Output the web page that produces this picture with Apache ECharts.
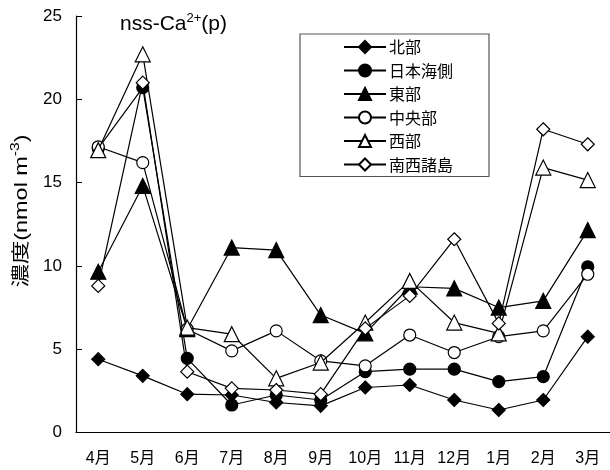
<!DOCTYPE html>
<html><head><meta charset="utf-8">
<script src="https://cdn.jsdelivr.net/npm/echarts@6/dist/echarts.min.js"></script>
<style>html,body{margin:0;padding:0;background:#fff}#c{width:610px;height:470px}</style>
</head><body><div id="c"></div>
<script>
var months = ['4月','5月','6月','7月','8月','9月','10月','11月','12月','1月','2月','3月'];
var yTicks = [0,5,10,15,20,25];
var seriesNames = ['北部','日本海側','東部','中央部','西部','南西諸島'];
var hokubu   = [4.4, 3.4, 2.3, 2.25, 1.8, 1.6, 2.7, 2.85, 1.95, 1.35, 1.95, 5.75];
var nihonkai = [17.05, 20.7, 4.45, 1.65, 2.25, 1.95, 3.65, 3.8, 3.8, 3.05, 3.35, 9.95];
var tobu     = [9.65, 14.8, 6.2, 11.1, 10.95, 7.05, 5.95, 8.75, 8.65, 7.5, 7.9, 12.15];
var chuo     = [17.15, 16.2, 6.2, 4.9, 6.1, 4.3, 4.0, 5.85, 4.8, 5.75, 6.1, 9.5];
var seibu    = [16.95, 22.7, 6.3, 5.9, 3.25, 4.2, 6.6, 9.1, 6.6, 5.95, 15.9, 15.15];
var nansei   = [8.8, 21.0, 3.65, 2.65, 2.55, 2.3, 6.25, 8.2, 11.6, 6.55, 18.2, 17.3];

var values = [hokubu, nihonkai, tobu, chuo, seibu, nansei];
var symbols = ['diamond','circle','triangle','circle','triangle','diamond'];
var sizes = [13, 12, 15, 12, 15, 13];
var fills = ['#000','#000','#000','#fff','#fff','#fff'];

var chart = echarts.init(document.getElementById('c'), null, {renderer:'canvas'});
var series = seriesNames.map(function(n, i){
  return {
    name: n, type: 'line', data: values[i],
    symbol: symbols[i], symbolSize: sizes[i], showAllSymbol: true,
    lineStyle: {color:'#000', width:1.2},
    itemStyle: {color: fills[i], borderColor:'#000', borderWidth:1.2},
    emphasis: {disabled:true},
    animation: false, z: 2 + i
  };
});
chart.setOption({
  animation: false,
  backgroundColor: '#fff',
  grid: {left:76, top:16, width:536, height:416.5},
  xAxis: {
    type:'category', data: months, boundaryGap: true,
    axisLine: {lineStyle:{color:'#000', width:1.2}},
    axisTick: {inside:true, length:6, lineStyle:{color:'#000', width:1}},
    axisLabel: {color:'#000', fontSize:16, margin:18, fontFamily:'Liberation Sans, "Noto Sans CJK JP"'},
    splitLine: {show:false}
  },
  yAxis: {
    type:'value', min:yTicks[0], max:yTicks[yTicks.length-1], interval:5,
    axisLine: {show:true, lineStyle:{color:'#000', width:1.2}},
    axisTick: {show:true, inside:true, length:6, lineStyle:{color:'#000', width:1}},
    axisLabel: {color:'#000', fontSize:17, margin:14, fontFamily:'Liberation Sans'},
    splitLine: {show:false}
  },
  legend: {
    data: seriesNames, orient:'vertical', left:300, top:34,
    selectedMode:false,
    itemWidth:42, itemHeight:15, itemGap:7.5,
    padding:[5, 36, 4, 43],
    borderColor:'#555', borderWidth:1.2,
    textStyle:{color:'#000', fontSize:16, fontFamily:'"Noto Sans CJK JP"', lineHeight:15, padding:[0,0,0,-2]}
  },
  graphic: [
    {type:'text', left:120, top:12, z:100,
     style:{text:'{a|nss-Ca}{s|2+}{a|(p)}', fill:'#000',
       rich:{a:{fontSize:21, fontFamily:'Liberation Sans', lineHeight:26, verticalAlign:'bottom'},
             s:{fontSize:13, fontFamily:'Liberation Sans', lineHeight:26, verticalAlign:'bottom', padding:[0,0,10,0]}}}},
    {type:'text', x:20, y:211, rotation:Math.PI/2, scaleX:1.3, z:100,
     style:{text:'{a|濃度(nmol m}{s|-3}{a|)}', fill:'#000', align:'center', verticalAlign:'middle',
       rich:{a:{fontSize:18, fontFamily:'Liberation Sans, "Noto Sans CJK JP"', lineHeight:22, verticalAlign:'bottom'},
             s:{fontSize:12, fontFamily:'Liberation Sans', lineHeight:22, verticalAlign:'bottom', padding:[0,0,9,0]}}}}
  ],
  series: series
});
</script></body></html>
